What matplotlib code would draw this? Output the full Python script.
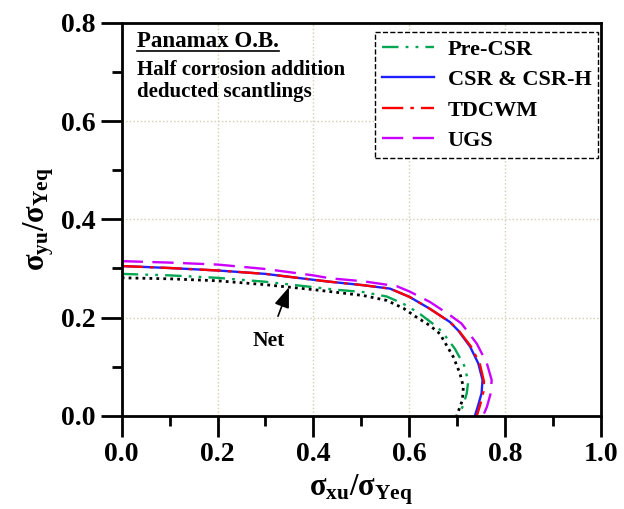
import matplotlib
matplotlib.use('Agg')
import matplotlib.pyplot as plt
from matplotlib.lines import Line2D

plt.rcParams['font.family'] = ['Liberation Serif', 'DejaVu Serif']
plt.rcParams['font.weight'] = 'bold'
plt.rcParams['mathtext.fontset'] = 'custom'
plt.rcParams['mathtext.rm'] = 'Liberation Serif:bold'
plt.rcParams['mathtext.it'] = 'Liberation Serif:bold'
plt.rcParams['mathtext.bf'] = 'Liberation Serif:bold'

# ultimate strength interaction curves (sigma_xu/sigma_Yeq , sigma_yu/sigma_Yeq)
net_x = [0.0, 0.1, 0.2, 0.3, 0.4, 0.435, 0.504, 0.553, 0.588, 0.615, 0.643, 0.664, 0.692, 0.706, 0.713, 0.711, 0.699]
net_y = [0.281, 0.279, 0.275, 0.267, 0.257, 0.253, 0.245, 0.235, 0.219, 0.201, 0.184, 0.167, 0.120, 0.086, 0.059, 0.032, 0.0]

pre_x = [0.0, 0.1, 0.2, 0.3, 0.4, 0.445, 0.504, 0.553, 0.588, 0.619, 0.650, 0.668, 0.695, 0.716, 0.723, 0.720, 0.713, 0.702]
pre_y = [0.289, 0.286, 0.281, 0.273, 0.262, 0.257, 0.252, 0.243, 0.228, 0.210, 0.187, 0.172, 0.137, 0.100, 0.069, 0.046, 0.022, 0.0]

csr_x = [0.0, 0.1, 0.2, 0.3, 0.4, 0.435, 0.504, 0.56, 0.601, 0.643, 0.685, 0.702, 0.727, 0.744, 0.753, 0.751, 0.744, 0.737]
csr_y = [0.305, 0.301, 0.296, 0.289, 0.277, 0.273, 0.266, 0.259, 0.242, 0.218, 0.191, 0.174, 0.141, 0.107, 0.073, 0.046, 0.022, 0.0]

tdc_x = [0.0, 0.1, 0.2, 0.3, 0.4, 0.435, 0.504, 0.56, 0.601, 0.643, 0.685, 0.703, 0.729, 0.747, 0.756, 0.755, 0.748, 0.741]
tdc_y = [0.305, 0.301, 0.296, 0.289, 0.277, 0.273, 0.266, 0.259, 0.242, 0.218, 0.191, 0.174, 0.141, 0.107, 0.070, 0.050, 0.022, 0.0]

ugs_x = [0.0, 0.1, 0.2, 0.3, 0.4, 0.435, 0.504, 0.574, 0.601, 0.643, 0.685, 0.709, 0.741, 0.762, 0.772, 0.770, 0.762, 0.754]
ugs_y = [0.315, 0.312, 0.308, 0.299, 0.286, 0.280, 0.274, 0.264, 0.253, 0.232, 0.205, 0.188, 0.147, 0.107, 0.073, 0.046, 0.018, 0.0]

fig = plt.figure(figsize=(6.24, 5.09), dpi=100)
ax = fig.add_axes([0.195, 0.183, 0.768, 0.772])

ax.plot(net_x, net_y, color='black', lw=2, linestyle=(0, (1, 1.5)))
ax.plot(pre_x, pre_y, color='#00a651', lw=1.7, linestyle=(0, (7, 3, 1.2, 3, 1.2, 3)), label='Pre-CSR')
ax.plot(csr_x, csr_y, color='#1f1fff', lw=1.7, label='CSR & CSR-H')
ax.plot(tdc_x, tdc_y, color='#ff0000', lw=1.7, linestyle=(0, (9, 3, 1.5, 3)), label='TDCWM')
ax.plot(ugs_x, ugs_y, color='#cc00ff', lw=1.7, linestyle=(0, (9, 4)), label='UGS')

ax.set_xlim(0, 1.0)
ax.set_ylim(0, 0.8)
ax.set_xticks([0.0, 0.2, 0.4, 0.6, 0.8, 1.0])
ax.set_yticks([0.0, 0.2, 0.4, 0.6, 0.8])
ax.set_xticks([0.1, 0.3, 0.5, 0.7, 0.9], minor=True)
ax.set_yticks([0.1, 0.3, 0.5, 0.7], minor=True)
ax.set_xticklabels(['0.0', '0.2', '0.4', '0.6', '0.8', '1.0'])
ax.set_yticklabels(['0.0', '0.2', '0.4', '0.6', '0.8'])
ax.tick_params(which='major', direction='out', length=15, width=2, labelsize=20, pad=4)
ax.tick_params(which='minor', direction='out', length=7.5, width=2)
ax.tick_params(top=False, right=False, which='both')
for lab in ax.get_xticklabels() + ax.get_yticklabels():
    lab.set_fontweight('bold')
for s in ax.spines.values():
    s.set_linewidth(2)

ax.grid(True, which='major', color='#d6ccae', linestyle=':', linewidth=1)
ax.set_axisbelow(True)

ax.set_xlabel(r'$\mathrm{\sigma_{xu}/\sigma_{Yeq}}$', fontsize=22, labelpad=4)
ax.set_ylabel(r'$\mathrm{\sigma_{yu}/\sigma_{Yeq}}$', fontsize=22, labelpad=3)

leg = ax.legend(loc='upper right', bbox_to_anchor=(0.994, 0.976), fontsize=16,
                frameon=True, fancybox=False, framealpha=1, edgecolor='black',
                handlelength=2.35, handletextpad=0.6, labelspacing=0.45,
                borderpad=0.3, borderaxespad=0)
leg.get_frame().set_linestyle('--')
leg.get_frame().set_linewidth(1)
for t in leg.get_texts():
    t.set_fontweight('bold')

t1 = ax.text(0.032, 0.952, 'Panamax O.B.', transform=ax.transAxes, fontsize=16.5,
             fontweight='bold', ha='left', va='center')
ax.text(0.032, 0.880, 'Half corrosion addition', transform=ax.transAxes, fontsize=15,
        fontweight='bold', ha='left', va='center')
ax.text(0.032, 0.825, 'deducted scantlings', transform=ax.transAxes, fontsize=15,
        fontweight='bold', ha='left', va='center')

ax.annotate('Net', xy=(0.349, 0.262), xytext=(0.307, 0.153), fontsize=15.5,
            fontweight='bold', ha='center', va='center',
            arrowprops=dict(arrowstyle='-|>,head_length=0.8,head_width=0.3',
                            color='black', lw=1.2, shrinkA=9, shrinkB=0))

# underline the title
fig.canvas.draw()
bb = t1.get_window_extent().transformed(fig.transFigure.inverted())
fig.add_artist(Line2D([bb.x0, bb.x1], [bb.y0 + 0.003, bb.y0 + 0.003],
                      transform=fig.transFigure, color='black', lw=1.2))

fig.savefig('out.png', dpi=100)
